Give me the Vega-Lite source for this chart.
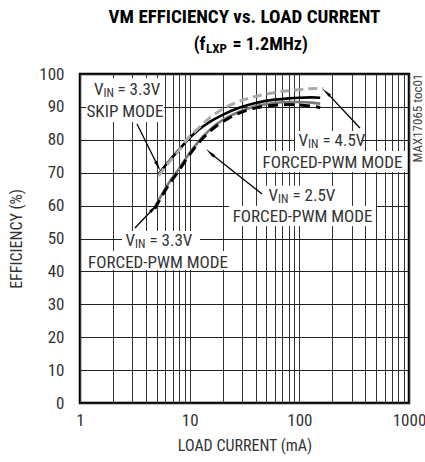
{
  "$schema": "https://vega.github.io/schema/vega-lite/v6.json",
  "autosize": "none",
  "width": 329,
  "height": 329,
  "padding": {"left": 80, "top": 74, "right": 16, "bottom": 59},
  "config": {
    "font": "Liberation Sans Narrow, Roboto Condensed, DejaVu Sans Condensed, sans-serif",
    "view": {"stroke": "#000", "strokeWidth": 2.5},
    "background": "white"
  },
  "datasets": {
    "curves": [
      {"current": 4.8, "eff": 59.5, "series": "f25"},
      {"current": 5.5, "eff": 63, "series": "f25"},
      {"current": 6.5, "eff": 67, "series": "f25"},
      {"current": 7.9, "eff": 71, "series": "f25"},
      {"current": 10, "eff": 76, "series": "f25"},
      {"current": 12.4, "eff": 80, "series": "f25"},
      {"current": 15, "eff": 82.8, "series": "f25"},
      {"current": 18, "eff": 85, "series": "f25"},
      {"current": 22, "eff": 86.8, "series": "f25"},
      {"current": 28.7, "eff": 88.6, "series": "f25"},
      {"current": 40, "eff": 90.2, "series": "f25"},
      {"current": 60, "eff": 91.2, "series": "f25"},
      {"current": 80, "eff": 91.5, "series": "f25"},
      {"current": 100, "eff": 91.5, "series": "f25"},
      {"current": 130, "eff": 91.3, "series": "f25"},
      {"current": 155, "eff": 91, "series": "f25"},
      {"current": 5.2, "eff": 69.5, "series": "skip"},
      {"current": 6, "eff": 72.2, "series": "skip"},
      {"current": 7, "eff": 74.8, "series": "skip"},
      {"current": 8, "eff": 77, "series": "skip"},
      {"current": 9.6, "eff": 80, "series": "skip"},
      {"current": 12, "eff": 83, "series": "skip"},
      {"current": 15, "eff": 85.3, "series": "skip"},
      {"current": 20, "eff": 87.6, "series": "skip"},
      {"current": 28.7, "eff": 89.8, "series": "skip"},
      {"current": 40, "eff": 91.2, "series": "skip"},
      {"current": 60, "eff": 92.2, "series": "skip"},
      {"current": 80, "eff": 92.6, "series": "skip"},
      {"current": 100, "eff": 92.8, "series": "skip"},
      {"current": 130, "eff": 92.9, "series": "skip"},
      {"current": 155, "eff": 92.8, "series": "skip"},
      {"current": 4.8, "eff": 59, "series": "f33"},
      {"current": 5.5, "eff": 62.5, "series": "f33"},
      {"current": 6.5, "eff": 66.5, "series": "f33"},
      {"current": 7.9, "eff": 70.5, "series": "f33"},
      {"current": 10, "eff": 75.5, "series": "f33"},
      {"current": 12.4, "eff": 79.5, "series": "f33"},
      {"current": 15, "eff": 82.3, "series": "f33"},
      {"current": 18, "eff": 84.5, "series": "f33"},
      {"current": 22, "eff": 86.3, "series": "f33"},
      {"current": 28.7, "eff": 88.2, "series": "f33"},
      {"current": 40, "eff": 89.7, "series": "f33"},
      {"current": 60, "eff": 90.5, "series": "f33"},
      {"current": 80, "eff": 90.7, "series": "f33"},
      {"current": 100, "eff": 90.6, "series": "f33"},
      {"current": 130, "eff": 90.2, "series": "f33"},
      {"current": 155, "eff": 89.8, "series": "f33"},
      {"current": 5.2, "eff": 69, "series": "v45"},
      {"current": 6, "eff": 71.8, "series": "v45"},
      {"current": 7, "eff": 74.5, "series": "v45"},
      {"current": 8, "eff": 76.8, "series": "v45"},
      {"current": 9.4, "eff": 80, "series": "v45"},
      {"current": 12, "eff": 83.5, "series": "v45"},
      {"current": 15, "eff": 86.5, "series": "v45"},
      {"current": 21.8, "eff": 90, "series": "v45"},
      {"current": 30, "eff": 92, "series": "v45"},
      {"current": 40, "eff": 93.2, "series": "v45"},
      {"current": 50, "eff": 93.9, "series": "v45"},
      {"current": 75, "eff": 94.8, "series": "v45"},
      {"current": 110, "eff": 95.4, "series": "v45"},
      {"current": 140, "eff": 95.6, "series": "v45"},
      {"current": 165, "eff": 95.6, "series": "v45"}
    ],
    "boxes": [
      {"x1": 1.134, "x2": 5.83, "y1": 85.4, "y2": 98.8},
      {"x1": 91.3, "x2": 365, "y1": 76.6, "y2": 82.7},
      {"x1": 42.9, "x2": 939, "y1": 70.2, "y2": 76.6},
      {"x1": 48.6, "x2": 225, "y1": 59.9, "y2": 66.0},
      {"x1": 22.8, "x2": 500, "y1": 53.8, "y2": 59.9},
      {"x1": 2.415, "x2": 12.43, "y1": 46.2, "y2": 52.3},
      {"x1": 1.11, "x2": 23.8, "y1": 40.4, "y2": 46.2}
    ],
    "shafts": [
      {"arrow": "a1", "x": 3.31, "y": 84.8},
      {"arrow": "a1", "x": 5.06, "y": 72.4},
      {"arrow": "a2", "x": 357, "y": 83.6},
      {"arrow": "a2", "x": 180.3, "y": 94.1},
      {"arrow": "a3", "x": 45.7, "y": 63.5},
      {"arrow": "a3", "x": 15.78, "y": 75.7},
      {"arrow": "a4", "x": 3.17, "y": 53.2},
      {"arrow": "a4", "x": 4.61, "y": 58.9}
    ],
    "labels": [
      {"role": "v", "text": "V", "x": 1.638, "y": 95.1},
      {"role": "sub", "text": "IN", "x": 1.638, "y": 95.1},
      {"role": "rest", "text": "= 3.3V", "x": 2.2, "y": 95.1},
      {"role": "main", "text": "SKIP MODE", "x": 2.572, "y": 88.5},
      {"role": "v", "text": "V", "x": 120, "y": 79.6},
      {"role": "sub", "text": "IN", "x": 120, "y": 79.6},
      {"role": "rest", "text": "= 4.5V", "x": 162.5, "y": 79.6},
      {"role": "main", "text": "FORCED-PWM MODE", "x": 200.6, "y": 73.1},
      {"role": "v", "text": "V", "x": 63.9, "y": 62.9},
      {"role": "sub", "text": "IN", "x": 63.9, "y": 62.9},
      {"role": "rest", "text": "= 2.5V", "x": 86.6, "y": 62.9},
      {"role": "main", "text": "FORCED-PWM MODE", "x": 106.9, "y": 56.6},
      {"role": "v", "text": "V", "x": 3.172, "y": 49.2},
      {"role": "sub", "text": "IN", "x": 3.172, "y": 49.2},
      {"role": "rest", "text": "= 3.3V", "x": 4.3, "y": 49.2},
      {"role": "main", "text": "FORCED-PWM MODE", "x": 5.14, "y": 42.7},
      {"role": "title", "text": "VM EFFICIENCY vs. LOAD CURRENT", "x": 31.6, "y": 117.3},
      {"role": "tv", "text": "(f", "x": 13.94, "y": 108.8},
      {"role": "tsub", "text": "LXP", "x": 14.09, "y": 108.8},
      {"role": "trest", "text": "= 1.2MHz)", "x": 24.6, "y": 108.8},
      {"role": "mark", "text": "MAX17065 toc01", "x": 1208, "y": 86.6}
    ]
  },
  "encoding": {
    "x": {
      "field": "current",
      "type": "quantitative",
      "scale": {"type": "log", "domain": [1, 1000], "nice": false},
      "axis": {
        "title": "LOAD CURRENT (mA)",
        "values": [1, 2, 3, 4, 5, 6, 7, 8, 9, 10, 20, 30, 40, 50, 60, 70, 80, 90, 100, 200, 300, 400, 500, 600, 700, 800, 900, 1000],
        "labelExpr": "datum.value == 1 || datum.value == 10 || datum.value == 100 || datum.value == 1000 ? format(datum.value, 'd') : ''",
        "labelOverlap": false,
        "labelFlush": false,
        "labelBound": false,
        "labelFontSize": 17,
        "labelColor": "#333",
        "labelPadding": 9,
        "ticks": false,
        "tickSize": 0,
        "domain": false,
        "grid": true,
        "gridColor": "#333",
        "gridWidth": 1,
        "gridOpacity": 1,
        "titleFontSize": 16,
        "titleFontWeight": "normal",
        "titleColor": "#333",
        "titlePadding": 9
      }
    },
    "y": {
      "field": "eff",
      "type": "quantitative",
      "scale": {"domain": [0, 100], "nice": false, "zero": true},
      "axis": {
        "title": "EFFICIENCY (%)",
        "values": [0, 10, 20, 30, 40, 50, 60, 70, 80, 90, 100],
        "labelFontSize": 17,
        "labelColor": "#333",
        "labelPadding": 16,
        "ticks": false,
        "tickSize": 0,
        "domain": false,
        "grid": true,
        "gridColor": "#222",
        "gridWidth": 1,
        "gridOpacity": 1,
        "titleFontSize": 16,
        "titleFontWeight": "normal",
        "titleColor": "#333",
        "titlePadding": 14
      }
    }
  },
  "layer": [
    {
      "data": {"name": "boxes"},
      "mark": {"type": "rect", "fill": "white", "stroke": null},
      "encoding": {
        "x": {"field": "x1", "type": "quantitative"},
        "x2": {"field": "x2"},
        "y": {"field": "y1", "type": "quantitative"},
        "y2": {"field": "y2"}
      }
    },
    {
      "data": {"name": "curves"},
      "transform": [{"filter": "datum.series == 'f25'"}],
      "mark": {"type": "line", "color": "#7a7a7a", "strokeWidth": 2.6, "interpolate": "monotone"}
    },
    {
      "data": {"name": "curves"},
      "transform": [{"filter": "datum.series == 'skip'"}],
      "mark": {"type": "line", "color": "#000", "strokeWidth": 2.6, "interpolate": "monotone"}
    },
    {
      "data": {"name": "curves"},
      "transform": [{"filter": "datum.series == 'f33'"}],
      "mark": {"type": "line", "color": "#000", "strokeWidth": 3, "strokeDash": [10, 6], "interpolate": "monotone"}
    },
    {
      "data": {"name": "curves"},
      "transform": [{"filter": "datum.series == 'v45'"}],
      "mark": {"type": "line", "color": "#aaaaaa", "strokeWidth": 3, "strokeDash": [9, 5], "interpolate": "monotone"}
    },
    {
      "data": {"name": "shafts"},
      "mark": {"type": "line", "color": "#000", "strokeWidth": 1.3},
      "encoding": {
        "x": {"field": "x", "type": "quantitative"},
        "y": {"field": "y", "type": "quantitative"},
        "detail": {"field": "arrow"}
      }
    },
    {
      "data": {"name": "shafts"},
      "transform": [{"filter": "datum.arrow == 'a1'"}, {"filter": "datum.y < 80"}],
      "mark": {"type": "point", "shape": "wedge", "filled": true, "color": "#000", "size": 160, "opacity": 1, "angle": 152},
      "encoding": {"x": {"field": "x", "type": "quantitative"}, "y": {"field": "y", "type": "quantitative"}}
    },
    {
      "data": {"name": "shafts"},
      "transform": [{"filter": "datum.arrow == 'a2'"}, {"filter": "datum.y > 90"}],
      "mark": {"type": "point", "shape": "wedge", "filled": true, "color": "#000", "size": 160, "opacity": 1, "angle": 313},
      "encoding": {"x": {"field": "x", "type": "quantitative"}, "y": {"field": "y", "type": "quantitative"}}
    },
    {
      "data": {"name": "shafts"},
      "transform": [{"filter": "datum.arrow == 'a3'"}, {"filter": "datum.y > 70"}],
      "mark": {"type": "point", "shape": "wedge", "filled": true, "color": "#000", "size": 160, "opacity": 1, "angle": 312},
      "encoding": {"x": {"field": "x", "type": "quantitative"}, "y": {"field": "y", "type": "quantitative"}}
    },
    {
      "data": {"name": "shafts"},
      "transform": [{"filter": "datum.arrow == 'a4'"}, {"filter": "datum.y > 56"}],
      "mark": {"type": "point", "shape": "wedge", "filled": true, "color": "#000", "size": 160, "opacity": 1, "angle": 44},
      "encoding": {"x": {"field": "x", "type": "quantitative"}, "y": {"field": "y", "type": "quantitative"}}
    },
    {
      "data": {"name": "labels"},
      "transform": [{"filter": "datum.role == 'main'"}],
      "mark": {"type": "text", "fontSize": 17, "color": "#333", "align": "center", "baseline": "middle"},
      "encoding": {"x": {"field": "x", "type": "quantitative"}, "y": {"field": "y", "type": "quantitative"}, "text": {"field": "text"}}
    },
    {
      "data": {"name": "labels"},
      "transform": [{"filter": "datum.role == 'v'"}],
      "mark": {"type": "text", "fontSize": 17, "color": "#333", "align": "right", "baseline": "middle"},
      "encoding": {"x": {"field": "x", "type": "quantitative"}, "y": {"field": "y", "type": "quantitative"}, "text": {"field": "text"}}
    },
    {
      "data": {"name": "labels"},
      "transform": [{"filter": "datum.role == 'sub'"}],
      "mark": {"type": "text", "fontSize": 12, "color": "#333", "align": "left", "baseline": "middle", "dy": 3},
      "encoding": {"x": {"field": "x", "type": "quantitative"}, "y": {"field": "y", "type": "quantitative"}, "text": {"field": "text"}}
    },
    {
      "data": {"name": "labels"},
      "transform": [{"filter": "datum.role == 'rest'"}],
      "mark": {"type": "text", "fontSize": 17, "color": "#333", "align": "left", "baseline": "middle"},
      "encoding": {"x": {"field": "x", "type": "quantitative"}, "y": {"field": "y", "type": "quantitative"}, "text": {"field": "text"}}
    },
    {
      "data": {"name": "labels"},
      "transform": [{"filter": "datum.role == 'title'"}],
      "mark": {"type": "text", "fontSize": 19, "fontWeight": "bold", "color": "#000", "align": "center", "baseline": "middle"},
      "encoding": {"x": {"field": "x", "type": "quantitative"}, "y": {"field": "y", "type": "quantitative"}, "text": {"field": "text"}}
    },
    {
      "data": {"name": "labels"},
      "transform": [{"filter": "datum.role == 'tv'"}],
      "mark": {"type": "text", "fontSize": 18, "fontWeight": "bold", "color": "#000", "align": "right", "baseline": "middle"},
      "encoding": {"x": {"field": "x", "type": "quantitative"}, "y": {"field": "y", "type": "quantitative"}, "text": {"field": "text"}}
    },
    {
      "data": {"name": "labels"},
      "transform": [{"filter": "datum.role == 'tsub'"}],
      "mark": {"type": "text", "fontSize": 13, "fontWeight": "bold", "color": "#000", "align": "left", "baseline": "middle", "dy": 4},
      "encoding": {"x": {"field": "x", "type": "quantitative"}, "y": {"field": "y", "type": "quantitative"}, "text": {"field": "text"}}
    },
    {
      "data": {"name": "labels"},
      "transform": [{"filter": "datum.role == 'trest'"}],
      "mark": {"type": "text", "fontSize": 18, "fontWeight": "bold", "color": "#000", "align": "left", "baseline": "middle"},
      "encoding": {"x": {"field": "x", "type": "quantitative"}, "y": {"field": "y", "type": "quantitative"}, "text": {"field": "text"}}
    },
    {
      "data": {"name": "labels"},
      "transform": [{"filter": "datum.role == 'mark'"}],
      "mark": {"type": "text", "fontSize": 13, "color": "#444", "align": "center", "baseline": "middle", "angle": 270},
      "encoding": {"x": {"field": "x", "type": "quantitative"}, "y": {"field": "y", "type": "quantitative"}, "text": {"field": "text"}}
    }
  ]
}
